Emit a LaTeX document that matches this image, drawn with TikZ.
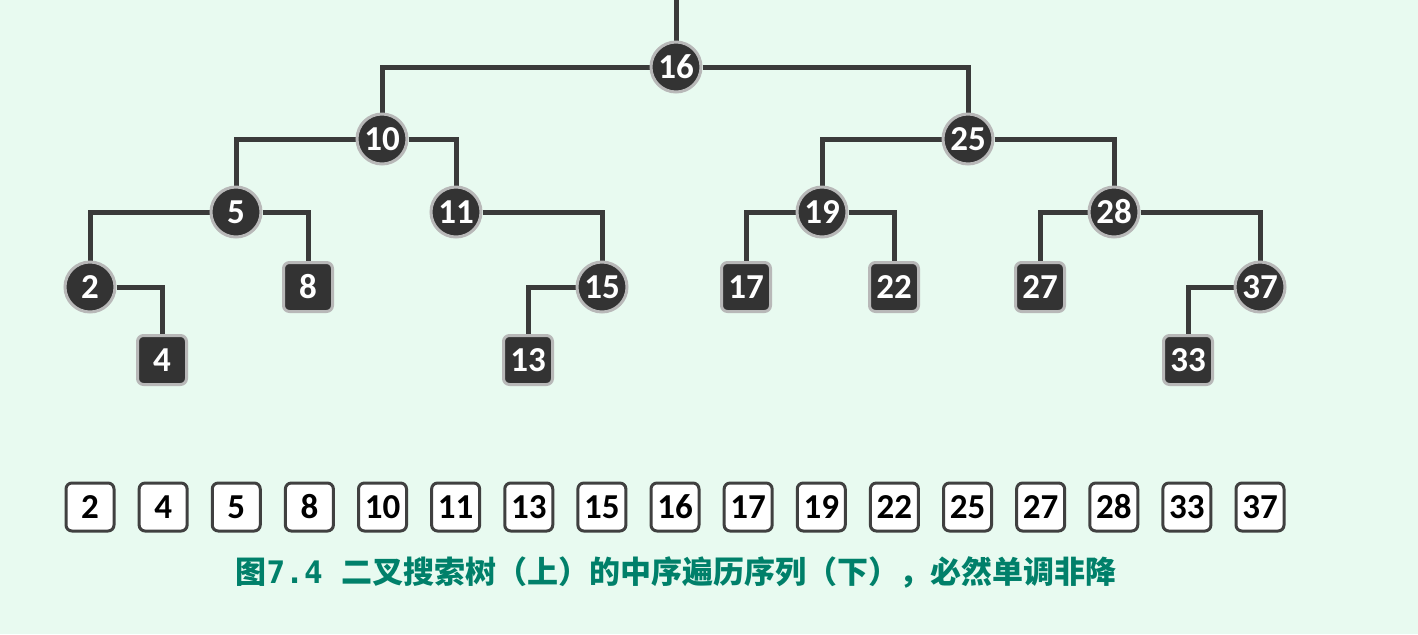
\documentclass[tikz,border=0pt]{standalone}
\usepackage{fontspec}
\setmainfont{Carlito}
\newfontfamily\cjk{Noto Sans CJK SC}
\newfontfamily\capmono{DejaVu Sans Mono}
\usetikzlibrary{backgrounds}
\definecolor{bgc}{HTML}{E8FAF0}
\definecolor{darkf}{HTML}{333333}
\definecolor{rimc}{HTML}{B8B8B8}
\definecolor{edgec}{HTML}{3A3A3A}
\definecolor{capc}{HTML}{00806A}
\definecolor{seqb}{HTML}{404040}
\tikzset{
  numfont/.style={font=\bfseries\fontsize{17.5}{17.5}\selectfont},
  inner/.style={circle, fill=darkf, draw=rimc, line width=1.5pt, minimum size=25pt, inner sep=0pt,
    text=white, numfont},
  leaf/.style={rectangle, rounded corners=3pt, fill=darkf, draw=rimc, line width=1.5pt, minimum size=24.5pt, inner sep=0pt,
    text=white, numfont},
  seq/.style={rectangle, rounded corners=3pt, fill=white, draw=seqb, line width=1.5pt, minimum size=24pt, inner sep=0pt,
    text=black, numfont},
  edge/.style={draw=edgec, line width=2.5pt},
}
\begin{document}
\begin{tikzpicture}[x=0.5pt,y=-0.5pt]
\useasboundingbox (0,0) rectangle (1418,634);
\node[inner] (n16) at (676,67) {16};
\node[inner] (n10) at (382,139) {10};
\node[inner] (n25) at (968,139) {25};
\node[inner] (n5) at (236,212) {5};
\node[inner] (n11) at (456,212) {11};
\node[inner] (n19) at (822,212) {19};
\node[inner] (n28) at (1114,212) {28};
\node[inner] (n2) at (90,287) {2};
\node[leaf] (n8) at (308,287) {8};
\node[inner] (n15) at (602,287) {15};
\node[leaf] (n17) at (746,287) {17};
\node[leaf] (n22) at (894,287) {22};
\node[leaf] (n27) at (1040,287) {27};
\node[inner] (n37) at (1260,287) {37};
\node[leaf] (n4) at (162,360) {4};
\node[leaf] (n13) at (528,360) {13};
\node[leaf] (n33) at (1188,360) {33};
\coordinate (top) at (676,0);
\begin{pgfonlayer}{background}
\fill[bgc] (0,0) rectangle (1418,634);
\draw[edge] (n16) -- (top);
\draw[edge] (n16) -| (n10);
\draw[edge] (n16) -| (n25);
\draw[edge] (n10) -| (n5);
\draw[edge] (n10) -| (n11);
\draw[edge] (n25) -| (n19);
\draw[edge] (n25) -| (n28);
\draw[edge] (n5) -| (n2);
\draw[edge] (n5) -| (n8);
\draw[edge] (n11) -| (n15);
\draw[edge] (n19) -| (n17);
\draw[edge] (n19) -| (n22);
\draw[edge] (n28) -| (n27);
\draw[edge] (n28) -| (n37);
\draw[edge] (n2) -| (n4);
\draw[edge] (n15) -| (n13);
\draw[edge] (n37) -| (n33);
\end{pgfonlayer}
\foreach \v [count=\i from 0] in {2,4,5,8,10,11,13,15,16,17,19,22,25,27,28,33,37} {
  \node[seq] (s\i) at ({90+\i*73.125},507) {\v};
}
\node[text=capc, font=\cjk\bfseries\fontsize{15.5}{15.5}\selectfont] (cap) at (676,572) {图{\capmono\bfseries 7.4 }二叉搜索树（上）的中序遍历序列（下），必然单调非降};
\end{tikzpicture}
\end{document}
